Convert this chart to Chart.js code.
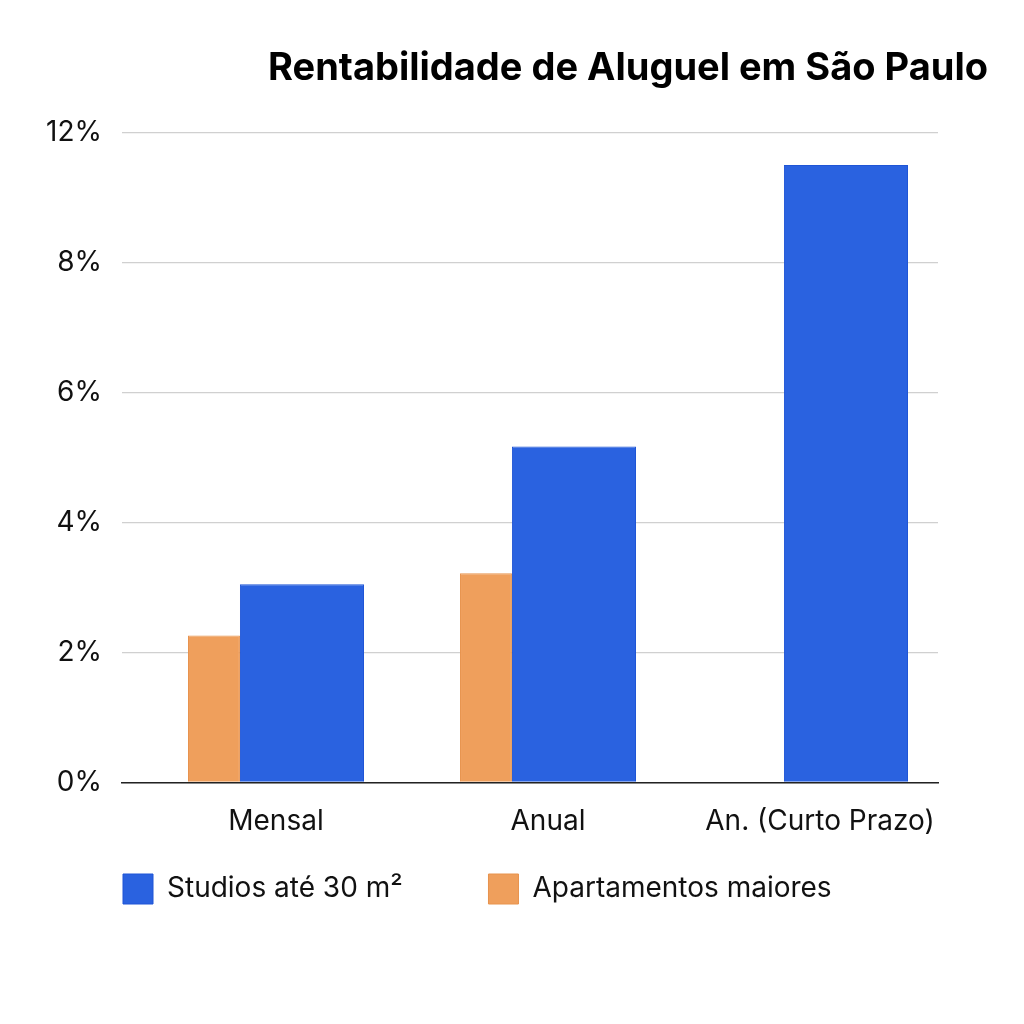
<!DOCTYPE html>
<html>
<head>
  <meta charset="utf-8" />
  <title>Rentabilidade de Aluguel em São Paulo</title>
  <script src="https://cdn.jsdelivr.net/npm/chart.js"></script>
  <style>
    body { margin: 0; background: #fff; }
  </style>
</head>
<body>
  <canvas id="rentChart" width="1024" height="1024"></canvas>
  <script>
    // categories and values (axis positions follow the original's uneven tick labels)
    const categories = ["Mensal", "Anual", "An. (Curto Prazo)"];
    const studios = [3.05, 5.17, 9.5];
    const apartamentos = [2.26, 3.22, null];
    const tickLabels = ["0%", "2%", "4%", "6%", "8%", "12%"];

    // nudge legend/title boxes sideways and give the legend some extra room
    const boxTweaks = {
      id: 'boxTweaks',
      afterInit(chart) {
        const shift = (box, dx) => {
          const draw = box.draw.bind(box);
          box.draw = function (...args) {
            this.ctx.save();
            this.ctx.translate(dx, 0);
            draw(...args);
            this.ctx.restore();
          };
        };
        shift(chart.legend, 75);
        shift(chart.titleBlock, 50);
        const fit = chart.legend.fit.bind(chart.legend);
        chart.legend.fit = function () {
          fit();
          this.height += 22;
        };
      }
    };

    const ctx = document.getElementById('rentChart').getContext('2d');
    new Chart(ctx, {
      type: 'bar',
      data: {
        labels: categories,
        datasets: [
          {
            label: 'Apartamentos maiores',
            data: apartamentos,
            backgroundColor: '#EF9F5C',
            borderColor: '#E8934D',
            borderWidth: 1,
            barPercentage: 0.59,
            categoryPercentage: 0.647
          },
          {
            label: 'Studios até 30 m²',
            data: studios,
            backgroundColor: '#2A62E0',
            borderColor: '#1F55D6',
            borderWidth: 1,
            barPercentage: 1.41,
            categoryPercentage: 0.647
          }
        ]
      },
      plugins: [boxTweaks],
      options: {
        responsive: false,
        animation: false,
        layout: { padding: { left: 26, right: 86, top: 46, bottom: 88 } },
        plugins: {
          title: {
            display: true,
            text: 'Rentabilidade de Aluguel em São Paulo',
            align: 'end',
            color: '#000',
            font: { family: 'Inter', size: 38, weight: 'bold' },
            padding: { top: 0, bottom: 41 }
          },
          legend: {
            position: 'bottom',
            align: 'start',
            reverse: true,
            labels: {
              boxWidth: 30,
              boxHeight: 30,
              padding: 22,
              color: '#111',
              font: { family: 'Inter', size: 28 },
              generateLabels(chart) {
                const items = Chart.defaults.plugins.legend.labels.generateLabels(chart);
                items.forEach(it => { if (it.datasetIndex === 1) it.text += '\u2003\u2003 '; });
                return items;
              }
            }
          },
          tooltip: { enabled: false }
        },
        scales: {
          x: {
            grid: { display: false },
            border: { color: '#222', width: 1.5 },
            ticks: {
              color: '#111',
              labelOffset: 18,
              padding: 14,
              font: { family: 'Inter', size: 28 }
            }
          },
          y: {
            min: 0,
            max: 10,
            border: { display: false },
            grid: { color: '#d0d0d0', lineWidth: 1.2, drawTicks: false },
            ticks: {
              stepSize: 2,
              padding: 20,
              color: '#111',
              font: { family: 'Inter', size: 28 },
              callback: v => tickLabels[Math.round(v / 2)]
            }
          }
        }
      }
    });
  </script>
</body>
</html>
